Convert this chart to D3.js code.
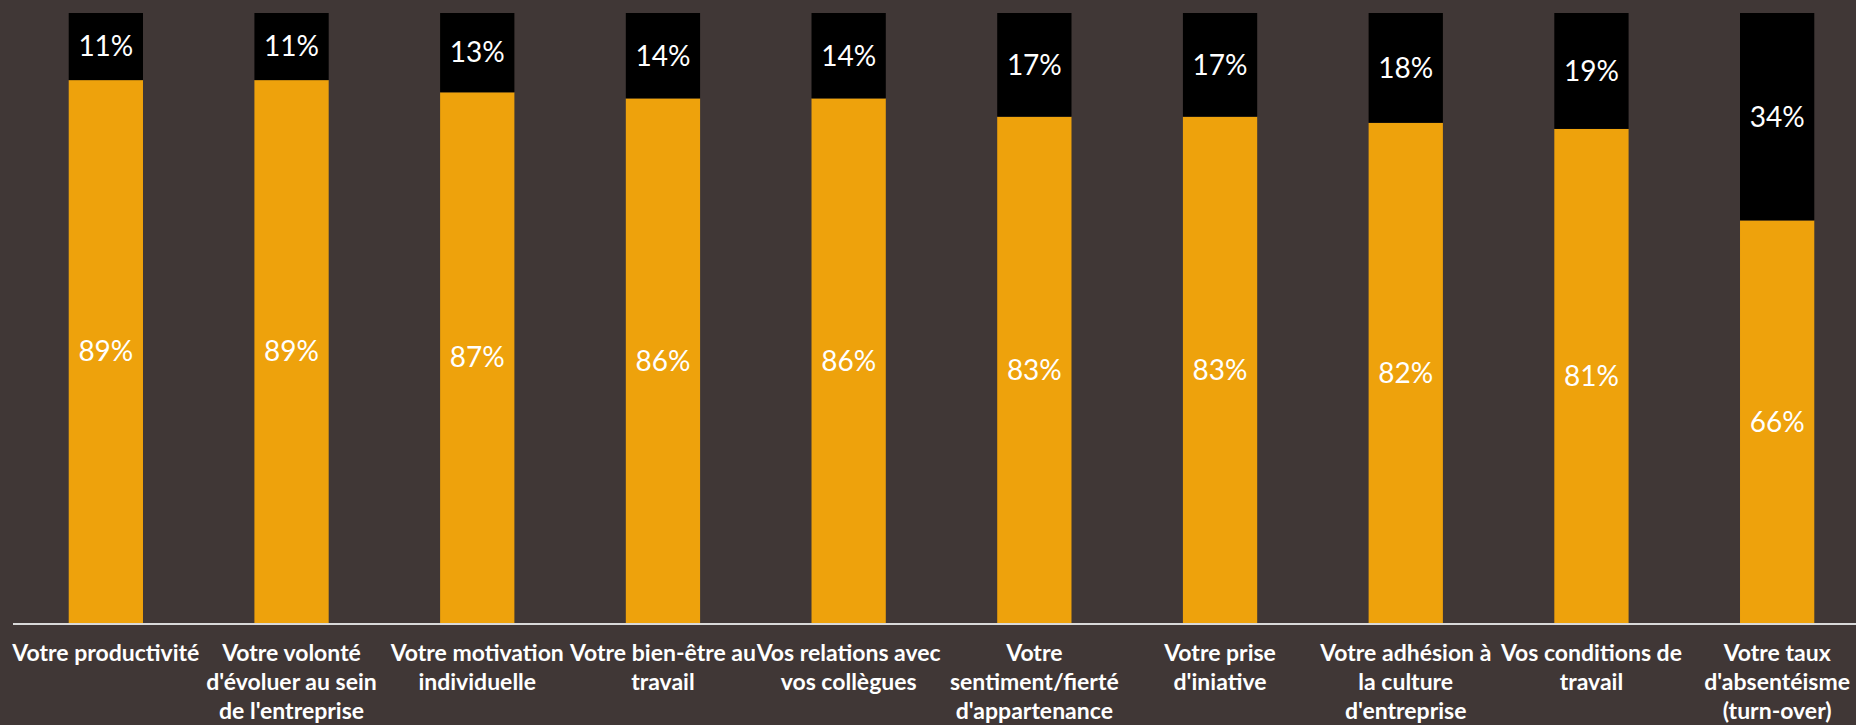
<!DOCTYPE html>
<html>
<head>
<meta charset="utf-8">
<script src="https://cdn.jsdelivr.net/npm/d3@7"></script>
<style>
  html, body { margin: 0; padding: 0; background: #403736; }
  svg { display: block; }
</style>
</head>
<body>
<div id="chart"></div>
<script>
const categories = [
    "Votre productivité",
    "Votre volonté d'évoluer au sein de l'entreprise",
    "Votre motivation individuelle",
    "Votre bien-être au travail",
    "Vos relations avec vos collègues",
    "Votre sentiment/fierté d'appartenance",
    "Votre prise d'iniative",
    "Votre adhésion à la culture d'entreprise",
    "Vos conditions de travail",
    "Votre taux d'absentéisme (turn-over)"
];
// tick labels, wrapped as in the original
const tickLines = [
    ["Votre productivité"],
    ["Votre volonté", "d'évoluer au sein", "de l'entreprise"],
    ["Votre motivation", "individuelle"],
    ["Votre bien-être au", "travail"],
    ["Vos relations avec", "vos collègues"],
    ["Votre", "sentiment/fierté", "d'appartenance"],
    ["Votre prise", "d'iniative"],
    ["Votre adhésion à", "la culture", "d'entreprise"],
    ["Vos conditions de", "travail"],
    ["Votre taux", "d'absentéisme", "(turn-over)"]
];
const ouiValues = [89, 89, 87, 86, 86, 83, 83, 82, 81, 66];
const nonValues = [11, 11, 13, 14, 14, 17, 17, 18, 19, 34];

const width = 1856;
const height = 725;
const margin = {top: 13, bottom: 102};
const baseline = height - margin.bottom;

const colors = {oui: "#eea20c", non: "#000000"};

const rows = categories.map((c, i) => ({cat: c, oui: ouiValues[i], non: nonValues[i]}));
const series = d3.stack().keys(["oui", "non"])(rows);

const svg = d3.select("#chart")
    .append("svg")
        .attr("width", width)
        .attr("height", height);

const xScale = d3.scaleBand()
    .domain(categories)
    .range([13, 1870])
    .paddingInner(0.6)
    .paddingOuter(0.3);

const yScale = d3.scaleLinear()
    .domain([0, 100])
    .range([baseline, margin.top]);

const groups = svg.selectAll("g.series")
    .data(series)
    .join("g")
        .attr("class", "series")
        .attr("fill", d => colors[d.key]);

groups.selectAll("rect")
    .data(d => d)
    .join("rect")
        .attr("x", d => xScale(d.data.cat))
        .attr("y", d => yScale(d[1]))
        .attr("width", xScale.bandwidth())
        .attr("height", d => yScale(d[0]) - yScale(d[1]));

// value labels centred in each segment
groups.selectAll("text")
    .data(d => d.map(v => ({v: v, key: d.key})))
    .join("text")
        .attr("x", d => xScale(d.v.data.cat) + xScale.bandwidth() / 2)
        .attr("y", d => (yScale(d.v[0]) + yScale(d.v[1])) / 2)
        .attr("dy", "0.35em")
        .attr("text-anchor", "middle")
        .attr("fill", "#ffffff")
        .style("font-family", "Lato, 'Open Sans', sans-serif")
        .style("font-size", "28px")
        .text(d => d.v.data[d.key] + "%");

// axis line
svg.append("line")
    .attr("x1", 13)
    .attr("x2", width)
    .attr("y1", baseline + 1)
    .attr("y2", baseline + 1)
    .attr("stroke", "#d9d9d9")
    .attr("stroke-width", 2);

// category labels
const labels = svg.append("g")
    .selectAll("text")
    .data(categories)
    .join("text")
        .attr("x", d => xScale(d) + xScale.bandwidth() / 2)
        .attr("y", baseline + 38)
        .attr("text-anchor", "middle")
        .attr("fill", "#ffffff")
        .style("font-family", "Lato, 'Open Sans', sans-serif")
        .style("font-weight", "bold")
        .style("font-size", "23px");

labels.selectAll("tspan")
    .data((d, i) => tickLines[i])
    .join("tspan")
        .attr("x", function() { return this.parentNode.getAttribute("x"); })
        .attr("dy", (d, i) => i === 0 ? 0 : 29)
        .text(d => d);
</script>
</body>
</html>
